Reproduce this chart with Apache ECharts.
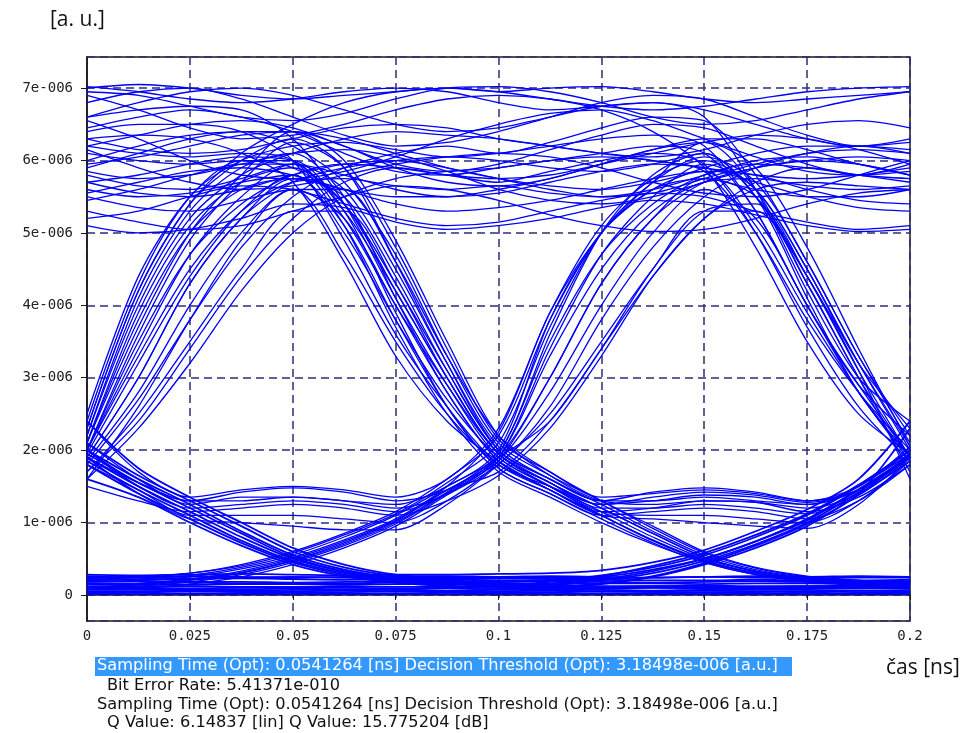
<!DOCTYPE html>
<html><head><meta charset="utf-8">
<script src="https://cdn.jsdelivr.net/npm/echarts@6/dist/echarts.min.js"></script>
<style>html,body{margin:0;padding:0;background:#fff}#c{width:965px;height:733px}</style>
</head><body><div id="c"></div>
<script>
// time samples [ns]
const times = [0,0.0125,0.025,0.0375,0.05,0.0625,0.075,0.0875,0.1,0.1125,0.125,0.1375,0.15,0.1625,0.175,0.1875,0.2];
// x tick values [ns]
const xTickValues = [0,0.025,0.05,0.075,0.1,0.125,0.15,0.175,0.2];
// y tick values in units of 1e-6 [a.u.]
const yTickValues = [0,1,2,3,4,5,6,7];

// traces at the "1" level in the middle of the window (values in 1e-6 a.u.)
const highTraces = [
  [7.0,7.05,7.0,6.9,6.85,6.9,6.95,7.0,6.95, 7.0,7.02,6.95,6.85,6.8,6.85,6.9,6.95],
  [6.9,6.7,6.45,6.3,6.35,6.5,6.7,6.85,6.9, 6.85,6.7,6.4,5.9,4.8,3.5,2.5,1.95],
  [6.8,6.95,7.0,6.85,6.6,6.35,6.2,6.25,6.4, 6.6,6.8,6.9,6.85,6.6,6.35,6.2,6.3],
  [6.55,6.3,6.0,5.8,5.75,5.85,6.05,6.3,6.5, 6.65,6.7,6.55,6.3,6.05,5.85,5.8,5.95],
  [6.45,6.6,6.7,6.6,6.4,6.1,5.85,5.8,5.9, 6.0,6.1,6.2,6.1,5.3,4.0,2.9,1.9],
  [6.3,6.15,6.1,6.15,6.3,6.45,6.5,6.45,6.3, 6.2,6.1,6.05,6.15,6.35,6.5,6.55,6.45],
  [6.15,5.9,5.7,5.6,5.65,5.8,5.95,6.05,6.1, 6.05,5.9,5.7,5.55,5.5,5.6,5.8,6.0],
  [5.95,6.05,6.2,6.35,6.4,6.3,6.1,5.9,5.75, 5.65,5.6,5.7,5.85,5.1,3.9,2.8,1.9],
  [5.7,5.55,5.5,5.6,5.8,5.95,6.0,5.9,5.75, 5.6,5.5,5.55,5.75,5.95,6.1,6.15,6.1],
  [5.55,5.7,5.85,5.9,5.8,5.6,5.4,5.3,5.35, 5.45,5.6,5.75,5.85,5.8,5.6,5.45,5.4],
  [5.3,5.15,5.05,5.1,5.3,5.5,5.65,5.6,5.45, 5.25,5.1,5.02,5.05,5.2,5.4,5.55,5.6],
  [5.1,5.0,5.05,5.2,5.4,5.35,5.15,5.05,5.1, 5.2,5.35,5.45,5.4,5.25,5.1,5.02,5.05],
  [2.2,4.0,5.2,5.8,6.1,6.3,6.4,6.35,6.3, 6.2,6.1,6.0,5.85,5.0,3.8,2.8,2.0],
  [2.0,3.5,4.7,5.4,5.8,5.95,5.9,5.8,5.75, 5.8,5.95,6.1,6.25,6.35,6.3,6.15,5.95],
  [1.9,3.0,4.3,5.2,5.7,5.9,6.0,6.05,6.0, 5.9,5.85,5.95,6.1,5.5,4.4,3.2,2.05],
  [2.1,3.8,5.0,5.6,5.75,5.6,5.5,5.5,5.6, 5.75,5.95,6.15,6.3,6.3,6.15,5.95,5.8],
  [1.8,2.7,3.8,4.8,5.5,5.9,6.1,6.2,6.1, 6.25,6.45,6.6,6.55,5.8,4.6,3.3,2.1],
  [2.0,3.3,4.5,5.3,5.7,5.75,5.65,5.6,5.65, 5.55,5.5,5.6,5.8,6.0,6.05,5.95,5.8],
  [1.7,2.4,3.4,4.4,5.2,5.7,5.9,5.8,5.7, 5.85,6.0,6.1,5.95,5.0,3.7,2.6,1.85],
  [6.95,6.9,6.75,6.6,6.55,6.65,6.85,7.0,7.02, 6.95,6.8,6.6,6.5,6.55,6.7,6.85,6.95],
  [6.6,6.8,6.95,7.0,6.9,6.7,6.5,6.4,6.45, 6.6,6.75,6.8,6.7,6.5,6.3,6.2,6.25],
  [6.2,6.35,6.5,6.55,6.45,6.2,5.95,5.85,5.95, 6.15,6.35,6.5,6.45,6.2,5.95,5.8,5.85],
  [5.85,5.75,5.8,5.95,6.1,6.15,6.05,5.85,5.6, 5.45,5.4,5.5,5.7,5.9,6.0,5.95,5.8],
  [5.45,5.6,5.8,5.95,5.95,5.8,5.6,5.5,5.55, 5.7,5.85,5.95,5.9,5.7,5.5,5.35,5.3],
  [5.2,5.3,5.5,5.65,5.6,5.4,5.2,5.1,5.15, 5.3,5.45,5.55,5.5,5.3,5.15,5.05,5.1],
  [2.4,4.3,5.5,6.0,6.2,6.25,6.15,6.05,6.1, 6.2,6.3,6.35,6.2,5.3,4.0,2.9,2.2],
  [1.6,2.3,3.2,4.2,5.0,5.5,5.75,5.85,5.9, 6.0,6.05,6.0,5.9,5.8,5.75,5.8,5.9],
  [5.9,6.1,6.3,6.4,6.4,6.2,5.9,5.7,5.65, 5.75,5.95,6.15,6.25,5.6,4.3,3.0,1.7],
  [2.3,4.2,5.4,6.1,6.5,6.8,6.95,7.0,6.95, 6.85,6.75,6.7,6.75,6.85,6.95,7.0,7.02],
  [7.02,6.95,6.85,6.8,6.85,6.95,7.0,6.95,6.8, 6.7,6.75,6.8,6.6,5.6,4.2,3.0,2.4]
];
// traces falling through the middle crossing point
const fallTraces = [
  [6.3,6.35,6.3,6.1,5.7,4.6,3.3,2.4,1.85, 1.45,1.1,0.76,0.48,0.3,0.21,0.16,0.13],
  [5.7,5.8,5.95,6.05,6.0,5.2,4.0,2.9,1.95, 1.55,1.25,1.3,1.38,1.35,1.25,1.45,1.95],
  [6.0,6.2,6.35,6.4,6.2,5.7,4.7,3.3,2.1, 1.65,1.3,0.92,0.58,0.37,0.25,0.2,0.17],
  [5.6,5.5,5.55,5.7,5.8,5.0,3.8,2.7,1.9, 1.5,1.15,1.1,1.1,1.05,1.0,1.3,1.85],
  [6.1,6.0,5.95,6.0,5.9,5.4,4.3,3.1,2.0, 1.6,1.3,1.42,1.48,1.42,1.3,1.45,1.9],
  [6.6,6.7,6.75,6.7,6.3,5.4,4.1,2.9,1.9, 1.5,1.15,0.8,0.5,0.32,0.22,0.17,0.14],
  [5.8,5.65,5.6,5.75,5.95,5.3,4.2,3.0,1.95, 1.55,1.2,1.2,1.25,1.2,1.12,1.38,1.9],
  [2.1,3.9,5.1,5.7,5.9,5.4,4.2,3.0,1.95, 1.55,1.2,0.85,0.52,0.33,0.23,0.18,0.15],
  [2.0,3.4,4.7,5.5,5.95,5.6,4.5,3.2,2.05, 1.6,1.3,1.3,1.35,1.3,1.25,1.5,2.0],
  [1.9,3.0,4.3,5.2,5.75,5.5,4.4,3.1,2.0, 1.6,1.25,0.88,0.55,0.35,0.24,0.2,0.18],
  [2.2,4.1,5.3,5.9,6.1,5.5,4.1,2.8,1.85, 1.45,1.1,1.05,1.0,0.95,0.92,1.25,1.9],
  [1.85,2.8,4.0,5.0,5.6,5.2,4.0,2.8,1.85, 1.45,1.1,0.75,0.47,0.3,0.2,0.15,0.12],
  [2.0,3.6,4.9,5.7,6.25,5.9,4.8,3.4,2.15, 1.7,1.35,1.4,1.45,1.4,1.3,1.5,2.05],
  [1.7,2.5,3.5,4.5,5.3,5.3,4.3,3.0,1.95, 1.5,1.1,0.75,0.47,0.3,0.2,0.15,0.12],
  [2.1,3.7,5.0,5.8,6.4,6.0,4.9,3.5,2.2, 1.65,1.3,1.25,1.3,1.28,1.2,1.4,1.95],
  [1.95,3.2,4.4,5.3,5.8,5.1,3.8,2.6,1.75, 1.4,1.05,0.72,0.45,0.28,0.18,0.13,0.1],
  [6.4,6.5,6.5,6.4,6.0,4.9,3.6,2.6,1.8, 1.45,1.15,1.2,1.3,1.28,1.15,1.35,1.8],
  [6.2,6.1,6.05,6.1,6.0,5.1,3.7,2.5,1.7, 1.35,1.0,0.7,0.45,0.28,0.19,0.15,0.13],
  [2.5,4.4,5.5,6.0,6.0,5.3,3.9,2.6,1.75, 1.4,1.1,1.15,1.2,1.15,1.05,1.3,1.8],
  [1.6,2.6,3.8,4.9,5.6,5.6,4.6,3.3,2.2, 1.7,1.3,0.95,0.6,0.38,0.26,0.2,0.16],
  [5.5,5.35,5.3,5.45,5.6,4.7,3.5,2.5,1.8, 1.5,1.25,1.35,1.42,1.38,1.28,1.45,1.95],
  [2.3,4.2,5.4,6.0,6.3,5.9,4.6,3.2,2.0, 1.55,1.2,0.85,0.52,0.33,0.23,0.18,0.15]
];
// traces rising through the middle crossing point
const riseTraces = [
  [0.12,0.14,0.2,0.3,0.47,0.7,1.0,1.42,1.9, 3.0,4.3,5.2,5.7,5.9,6.0,6.05,6.0],
  [0.2,0.22,0.27,0.38,0.55,0.8,1.1,1.5,1.95, 3.6,5.0,5.8,6.1,5.5,4.1,2.8,1.9],
  [0.08,0.1,0.15,0.25,0.42,0.65,0.95,1.38,1.8, 2.6,3.8,4.8,5.5,5.9,6.1,6.2,6.1],
  [0.25,0.26,0.3,0.42,0.6,0.85,1.15,1.6,2.2, 3.8,5.0,5.7,6.25,5.9,4.8,3.4,2.05],
  [0.15,0.16,0.22,0.33,0.5,0.74,1.03,1.45,1.9, 3.3,4.5,5.3,5.7,5.75,5.65,5.6,5.65],
  [0.1,0.12,0.18,0.28,0.45,0.68,0.98,1.4,1.85, 2.8,4.0,5.0,5.6,5.2,4.0,2.8,1.85],
  [1.9,1.55,1.3,1.42,1.48,1.42,1.3,1.45,1.9, 2.4,3.4,4.4,5.2,5.7,5.9,5.8,5.7],
  [2.0,1.5,1.2,1.25,1.3,1.25,1.15,1.4,1.9, 3.4,4.7,5.5,5.95,5.6,4.5,3.2,2.0],
  [1.8,1.45,1.1,1.1,1.1,1.05,1.0,1.3,1.85, 3.0,4.3,5.2,5.75,5.5,4.4,3.1,1.9],
  [2.1,1.6,1.25,1.35,1.35,1.3,1.2,1.4,1.95, 3.5,4.7,5.4,5.8,5.95,5.9,5.8,5.75],
  [1.9,1.4,1.05,1.0,0.95,0.9,0.9,1.25,1.8, 2.5,3.5,4.5,5.3,5.3,4.3,3.0,1.9],
  [2.0,1.55,1.3,1.3,1.35,1.3,1.25,1.5,2.0, 3.8,5.0,5.6,5.75,5.6,5.5,5.5,5.6],
  [2.4,1.7,1.35,1.45,1.5,1.45,1.35,1.6,2.3, 3.9,5.1,5.75,6.0,5.6,4.5,3.2,2.3],
  [0.18,0.2,0.25,0.36,0.52,0.76,1.05,1.5,2.25, 3.9,5.0,5.6,5.9,6.1,6.2,6.2,6.15],
  [0.22,0.24,0.3,0.4,0.58,0.83,1.12,1.55,2.1, 3.7,5.0,5.7,6.05,5.7,4.6,3.3,2.2],
  [1.5,1.3,1.15,1.2,1.25,1.2,1.1,1.3,1.65, 2.3,3.3,4.4,5.2,5.6,5.7,5.65,5.6],
  [0.14,0.15,0.21,0.31,0.48,0.72,1.02,1.45,1.7, 2.4,3.4,4.5,5.3,5.4,4.4,3.1,1.6]
];
// traces at the "0" level in the middle of the window
const lowTraces = [
  [1.9,1.5,1.15,0.8,0.5,0.32,0.22,0.17,0.14, 0.13,0.12,0.12,0.13,0.12,0.12,0.13,0.12],
  [2.0,1.6,1.25,0.88,0.55,0.35,0.24,0.2,0.18, 0.2,0.27,0.38,0.55,0.8,1.1,1.5,1.95],
  [1.8,1.4,1.05,0.72,0.45,0.28,0.18,0.13,0.1, 0.09,0.09,0.1,0.09,0.09,0.1,0.09,0.09],
  [2.1,1.65,1.3,0.95,0.6,0.38,0.26,0.2,0.16, 0.14,0.2,0.3,0.47,0.7,1.0,1.42,1.9],
  [1.85,1.45,1.1,0.75,0.47,0.3,0.2,0.15,0.12, 0.11,0.11,0.1,0.11,0.11,0.1,0.11,0.11],
  [1.95,1.55,1.2,0.85,0.52,0.33,0.23,0.18,0.15, 0.16,0.22,0.33,0.5,0.74,1.03,1.45,1.9],
  [0.05,0.05,0.06,0.05,0.05,0.06,0.05,0.05,0.05, 0.06,0.05,0.05,0.06,0.05,0.05,0.06,0.05],
  [0.08,0.09,0.08,0.08,0.09,0.08,0.08,0.09,0.08, 0.1,0.15,0.25,0.42,0.65,0.95,1.38,1.85],
  [0.11,0.11,0.12,0.11,0.11,0.12,0.11,0.11,0.12, 0.12,0.11,0.12,0.12,0.11,0.12,0.12,0.11],
  [0.15,0.14,0.14,0.15,0.15,0.14,0.15,0.15,0.14, 0.18,0.26,0.4,0.58,0.83,1.12,1.52,2.0],
  [0.18,0.19,0.18,0.18,0.17,0.18,0.19,0.18,0.18, 0.19,0.18,0.17,0.18,0.19,0.18,0.18,0.19],
  [0.22,0.21,0.22,0.23,0.22,0.21,0.22,0.22,0.23, 0.22,0.25,0.35,0.5,0.74,1.05,1.46,1.92],
  [0.26,0.25,0.26,0.25,0.24,0.25,0.26,0.26,0.25, 0.26,0.25,0.24,0.25,0.26,0.25,0.26,0.25],
  [0.02,0.03,0.02,0.02,0.03,0.02,0.02,0.03,0.02, 0.03,0.02,0.02,0.03,0.02,0.03,0.02,0.03],
  [2.4,1.75,1.35,1.0,0.65,0.42,0.28,0.22,0.2, 0.2,0.21,0.2,0.2,0.21,0.2,0.2,0.21],
  [1.6,1.35,1.0,0.68,0.42,0.26,0.17,0.12,0.1, 0.11,0.16,0.26,0.44,0.68,0.98,1.4,2.3],
  [0.04,0.04,0.05,0.04,0.04,0.04,0.05,0.04,0.04, 0.04,0.05,0.04,0.04,0.04,0.05,0.04,0.04],
  [0.07,0.07,0.07,0.06,0.07,0.07,0.07,0.06,0.07, 0.07,0.07,0.06,0.07,0.07,0.07,0.06,0.07],
  [0.1,0.1,0.09,0.1,0.1,0.1,0.09,0.1,0.1, 0.1,0.09,0.1,0.1,0.1,0.09,0.1,0.1],
  [0.16,0.16,0.17,0.16,0.16,0.16,0.17,0.16,0.16, 0.15,0.16,0.16,0.15,0.16,0.16,0.15,0.16],
  [0.28,0.27,0.28,0.29,0.28,0.27,0.28,0.28,0.29, 0.3,0.34,0.45,0.62,0.88,1.18,1.6,2.4],
  [0.24,0.24,0.23,0.24,0.25,0.24,0.23,0.24,0.24, 0.24,0.23,0.24,0.25,0.24,0.23,0.24,0.24],
  [0.01,0.01,0.01,0.01,0.01,0.01,0.01,0.01,0.01, 0.01,0.01,0.01,0.01,0.01,0.01,0.01,0.01]
];

function makeSeries(list, width) {
  return list.map(tr => ({
    type: 'line',
    data: tr.map((v, i) => [times[i], v]),
    showSymbol: false,
    smooth: 0.3,
    silent: true,
    animation: false,
    lineStyle: { color: '#0000ff', width: width }
  }));
}
const series = makeSeries(highTraces, 1.3)
  .concat(makeSeries(fallTraces, 1.3), makeSeries(riseTraces, 1.3), makeSeries(lowTraces, 1.8));

const chart = echarts.init(document.getElementById('c'), null, { renderer: 'canvas' });
const tickFont = { fontFamily: 'DejaVu Sans Mono', fontSize: 14, color: '#222' };
chart.setOption({
  animation: false,
  backgroundColor: '#ffffff',
  grid: { left: 87, right: 55, top: 57, bottom: 112, show: true, borderColor: '#1a1a1a', borderWidth: 1.5, backgroundColor: 'transparent' },
  xAxis: {
    type: 'value', min: 0, max: 0.2, interval: 0.025,
    axisLine: { show: true, lineStyle: { color: '#1a1a1a', width: 1.5 } },
    axisTick: { show: true, length: 5, lineStyle: { color: '#1a1a1a' } },
    axisLabel: Object.assign({ margin: 8, formatter: v => String(v) }, tickFont),
    splitLine: { show: true, lineStyle: { color: '#2e2e78', type: [8, 5], width: 1.5 } }
  },
  yAxis: {
    type: 'value', min: -0.36, max: 7.43, splitNumber: 8,
    axisLine: { show: true, lineStyle: { color: '#1a1a1a', width: 1.5 } },
    axisTick: { show: true, length: 6, lineStyle: { color: '#1a1a1a' } },
    axisLabel: Object.assign({ margin: 14, showMinLabel: false, showMaxLabel: false,
      formatter: v => (yTickValues.indexOf(Math.round(v * 1000) / 1000) < 0 ? '' : (v === 0 ? '0' : Math.round(v) + 'e-006')) }, tickFont),
    splitLine: { show: true, lineStyle: { color: '#2e2e78', type: [8, 5], width: 1.5 } }
  },
  series: series,
  graphic: [
    { type: 'text', left: 50, top: 10, style: { text: '[a. u.]', font: '21px "Open Sans"', fill: '#111' } },
    { type: 'text', left: 886, top: 658, style: { text: 'čas [ns]', font: '21px "Open Sans"', fill: '#111' } },
    { type: 'rect', shape: { x: 95, y: 657, width: 697, height: 19 }, style: { fill: '#3399ff' } },
    { type: 'text', left: 97, top: 658, style: { text: 'Sampling Time (Opt): 0.0541264 [ns] Decision Threshold (Opt): 3.18498e-006 [a.u.]', font: '16.2px "DejaVu Sans"', fill: '#ffffff' } },
    { type: 'text', left: 107, top: 678, style: { text: 'Bit Error Rate: 5.41371e-010', font: '16.2px "DejaVu Sans"', fill: '#111' } },
    { type: 'text', left: 97, top: 697, style: { text: 'Sampling Time (Opt): 0.0541264 [ns] Decision Threshold (Opt): 3.18498e-006 [a.u.]', font: '16.2px "DejaVu Sans"', fill: '#111' } },
    { type: 'text', left: 107, top: 715, style: { text: 'Q Value: 6.14837 [lin] Q Value: 15.775204 [dB]', font: '16.2px "DejaVu Sans"', fill: '#111' } }
  ]
});
</script>
</body></html>
